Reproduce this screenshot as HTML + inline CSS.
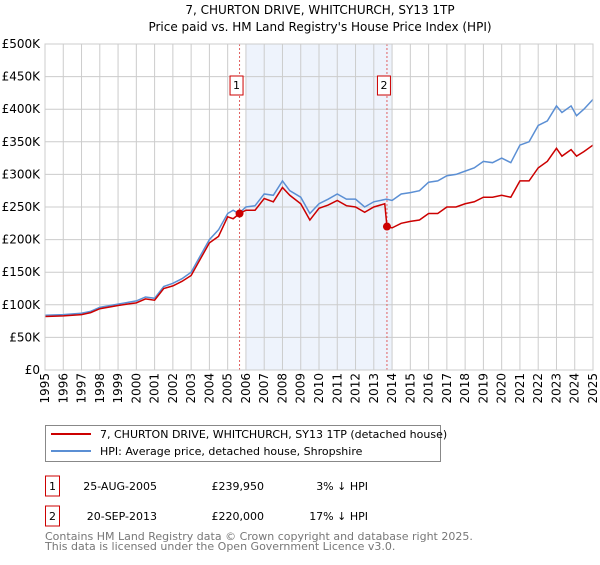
<!DOCTYPE html>
<html><head><meta charset="utf-8"><style>
body{margin:0;background:#fff;font-family:"Liberation Sans","DejaVu Sans",sans-serif;}
svg text{font-family:"DejaVu Sans","Liberation Sans",sans-serif;}
</style></head><body>
<svg id="c" width="600" height="560" xmlns="http://www.w3.org/2000/svg">
<text x="320" y="14" text-anchor="middle" font-size="12">7, CHURTON DRIVE, WHITCHURCH, SY13 1TP</text>
<text x="320" y="31" text-anchor="middle" font-size="12">Price paid vs. HM Land Registry's House Price Index (HPI)</text>
<g id="plot"></g>
<rect x="45.5" y="425.5" width="395" height="36" fill="#fff" stroke="#888"/>
<line x1="51" y1="434" x2="91" y2="434" stroke="#cc0000" stroke-width="2"/>
<text x="100" y="438" font-size="11">7, CHURTON DRIVE, WHITCHURCH, SY13 1TP (detached house)</text>
<line x1="51" y1="451" x2="91" y2="451" stroke="#5b8fd4" stroke-width="2"/>
<text x="100" y="455" font-size="11">HPI: Average price, detached house, Shropshire</text>
<g>
<rect x="45.5" y="476" width="14" height="20" fill="none" stroke="#cc0000"/>
<text x="52.5" y="490" text-anchor="middle" font-size="11">1</text>
<text x="157" y="490" text-anchor="end" font-size="11">25-AUG-2005</text>
<text x="264" y="490" text-anchor="end" font-size="11">£239,950</text>
<text x="368" y="490" text-anchor="end" font-size="11">3% ↓ HPI</text></g>
<g>
<rect x="45.5" y="506" width="14" height="20" fill="none" stroke="#cc0000"/>
<text x="52.5" y="520" text-anchor="middle" font-size="11">2</text>
<text x="157" y="520" text-anchor="end" font-size="11">20-SEP-2013</text>
<text x="264" y="520" text-anchor="end" font-size="11">£220,000</text>
<text x="368" y="520" text-anchor="end" font-size="11">17% ↓ HPI</text></g>
<text x="45" y="540" font-size="11" fill="#777">Contains HM Land Registry data © Crown copyright and database right 2025.</text>
<text x="45" y="550" font-size="11" fill="#777">This data is licensed under the Open Government Licence v3.0.</text>
</svg>
<script>
const hpiYears=[1995,1996,1997,1997.5,1998,1999,2000,2000.5,2001,2001.5,2002,2002.5,2003,2003.5,2004,2004.5,2005,2005.3,2005.6,2006,2006.5,2007,2007.5,2008,2008.4,2009,2009.5,2010,2010.5,2011,2011.5,2012,2012.5,2013,2013.7,2014,2014.5,2015,2015.5,2016,2016.5,2017,2017.5,2018,2018.5,2019,2019.5,2020,2020.5,2021,2021.5,2022,2022.5,2023,2023.3,2023.8,2024.1,2024.5,2025];
const hpiValues=[84,85,87,90,96,101,106,112,110,128,133,140,150,175,200,215,240,245,240,250,252,270,268,290,275,265,240,255,262,270,262,262,250,258,262,260,270,272,275,288,290,298,300,305,310,320,318,325,318,345,350,375,382,405,395,405,390,400,415];
const priceYears=[1995,1996,1997,1997.5,1998,1999,2000,2000.5,2001,2001.5,2002,2002.5,2003,2003.5,2004,2004.5,2005,2005.3,2005.65,2006,2006.5,2007,2007.5,2008,2008.4,2009,2009.5,2010,2010.5,2011,2011.5,2012,2012.5,2013,2013.6,2013.72,2014,2014.5,2015,2015.5,2016,2016.5,2017,2017.5,2018,2018.5,2019,2019.5,2020,2020.5,2021,2021.5,2022,2022.5,2023,2023.3,2023.8,2024.1,2024.5,2025];
const priceValues=[82,83,85,88,94,99,103,109,107,125,129,136,145,170,195,205,235,232,240,245,245,263,258,280,268,255,230,248,253,260,252,250,242,250,255,220,218,225,228,230,240,240,250,250,255,258,265,265,268,265,290,290,310,320,340,328,338,328,335,345];
const saleYears=[2005.65,2013.72];
const saleValues=[239.95,220];
const saleLabels=["1","2"];
const yTicks=[0,50,100,150,200,250,300,350,400,450,500];
const xTicks=[1995,1996,1997,1998,1999,2000,2001,2002,2003,2004,2005,2006,2007,2008,2009,2010,2011,2012,2013,2014,2015,2016,2017,2018,2019,2020,2021,2022,2023,2024,2025];
const X0=45,X1=593,Y0=370,Y1=44;
const sx=y=>X0+(y-1995)/30*(X1-X0);
const sy=v=>Y0-v/500*(Y0-Y1);
const NS="http://www.w3.org/2000/svg";
const g=document.getElementById('plot');
function mk(t,a){const e=document.createElementNS(NS,t);for(const k in a)e.setAttribute(k,a[k]);g.appendChild(e);return e;}
let sh=mk('rect',{x:sx(2006),y:Y1,width:sx(2014)-sx(2006),height:Y0-Y1,fill:'#eef3fc'});


yTicks.forEach(v=>{
 const l=mk('line',{x1:X0,x2:X1,y1:sy(v),y2:sy(v),stroke:'#ccc'});
 
 
 const t=mk('text',{x:40,y:sy(v)+4,'text-anchor':'end','font-size':12});
 
 
 t.textContent=v===0?'£0':'£'+v+'K';
});
xTicks.forEach(y=>{
 const l=mk('line',{x1:sx(y),x2:sx(y),y1:Y1,y2:Y0,stroke:'#ccc'});
 
 
 const t=mk('text',{x:0,y:0,'text-anchor':'end','font-size':12,transform:`translate(${sx(y)+4},${Y0+3}) rotate(-90)`});
 
 
 t.textContent=y;
});
saleYears.forEach((y,i)=>{
 const l=mk('line',{x1:sx(y),x2:sx(y),y1:Y1,y2:Y0,stroke:'#e06060','stroke-dasharray':'2,2'});
 
 
 const r=mk('rect',{x:sx(y)-9.5,y:76,width:13,height:19,fill:'#fff',stroke:'#cc0000'});
 
 
 const t=mk('text',{x:sx(y)-3,y:89,'text-anchor':'middle','font-size':11});
 
 
 t.textContent=saleLabels[i];
});
const hp=mk('polyline',{points:hpiYears.map((y,i)=>sx(y)+','+sy(hpiValues[i])).join(' '),fill:'none',stroke:'#5b8fd4','stroke-width':1.5});


const pp=mk('polyline',{points:priceYears.map((y,i)=>sx(y)+','+sy(priceValues[i])).join(' '),fill:'none',stroke:'#cc0000','stroke-width':1.5});


saleYears.forEach((y,i)=>{
 const c=mk('circle',{cx:sx(y),cy:sy(saleValues[i]),r:4,fill:'#cc0000'});
 
 
});
const ax=mk('rect',{x:X0,y:Y1,width:X1-X0,height:Y0-Y1,fill:'none',stroke:'#ccc'});


</script>
</body></html>
